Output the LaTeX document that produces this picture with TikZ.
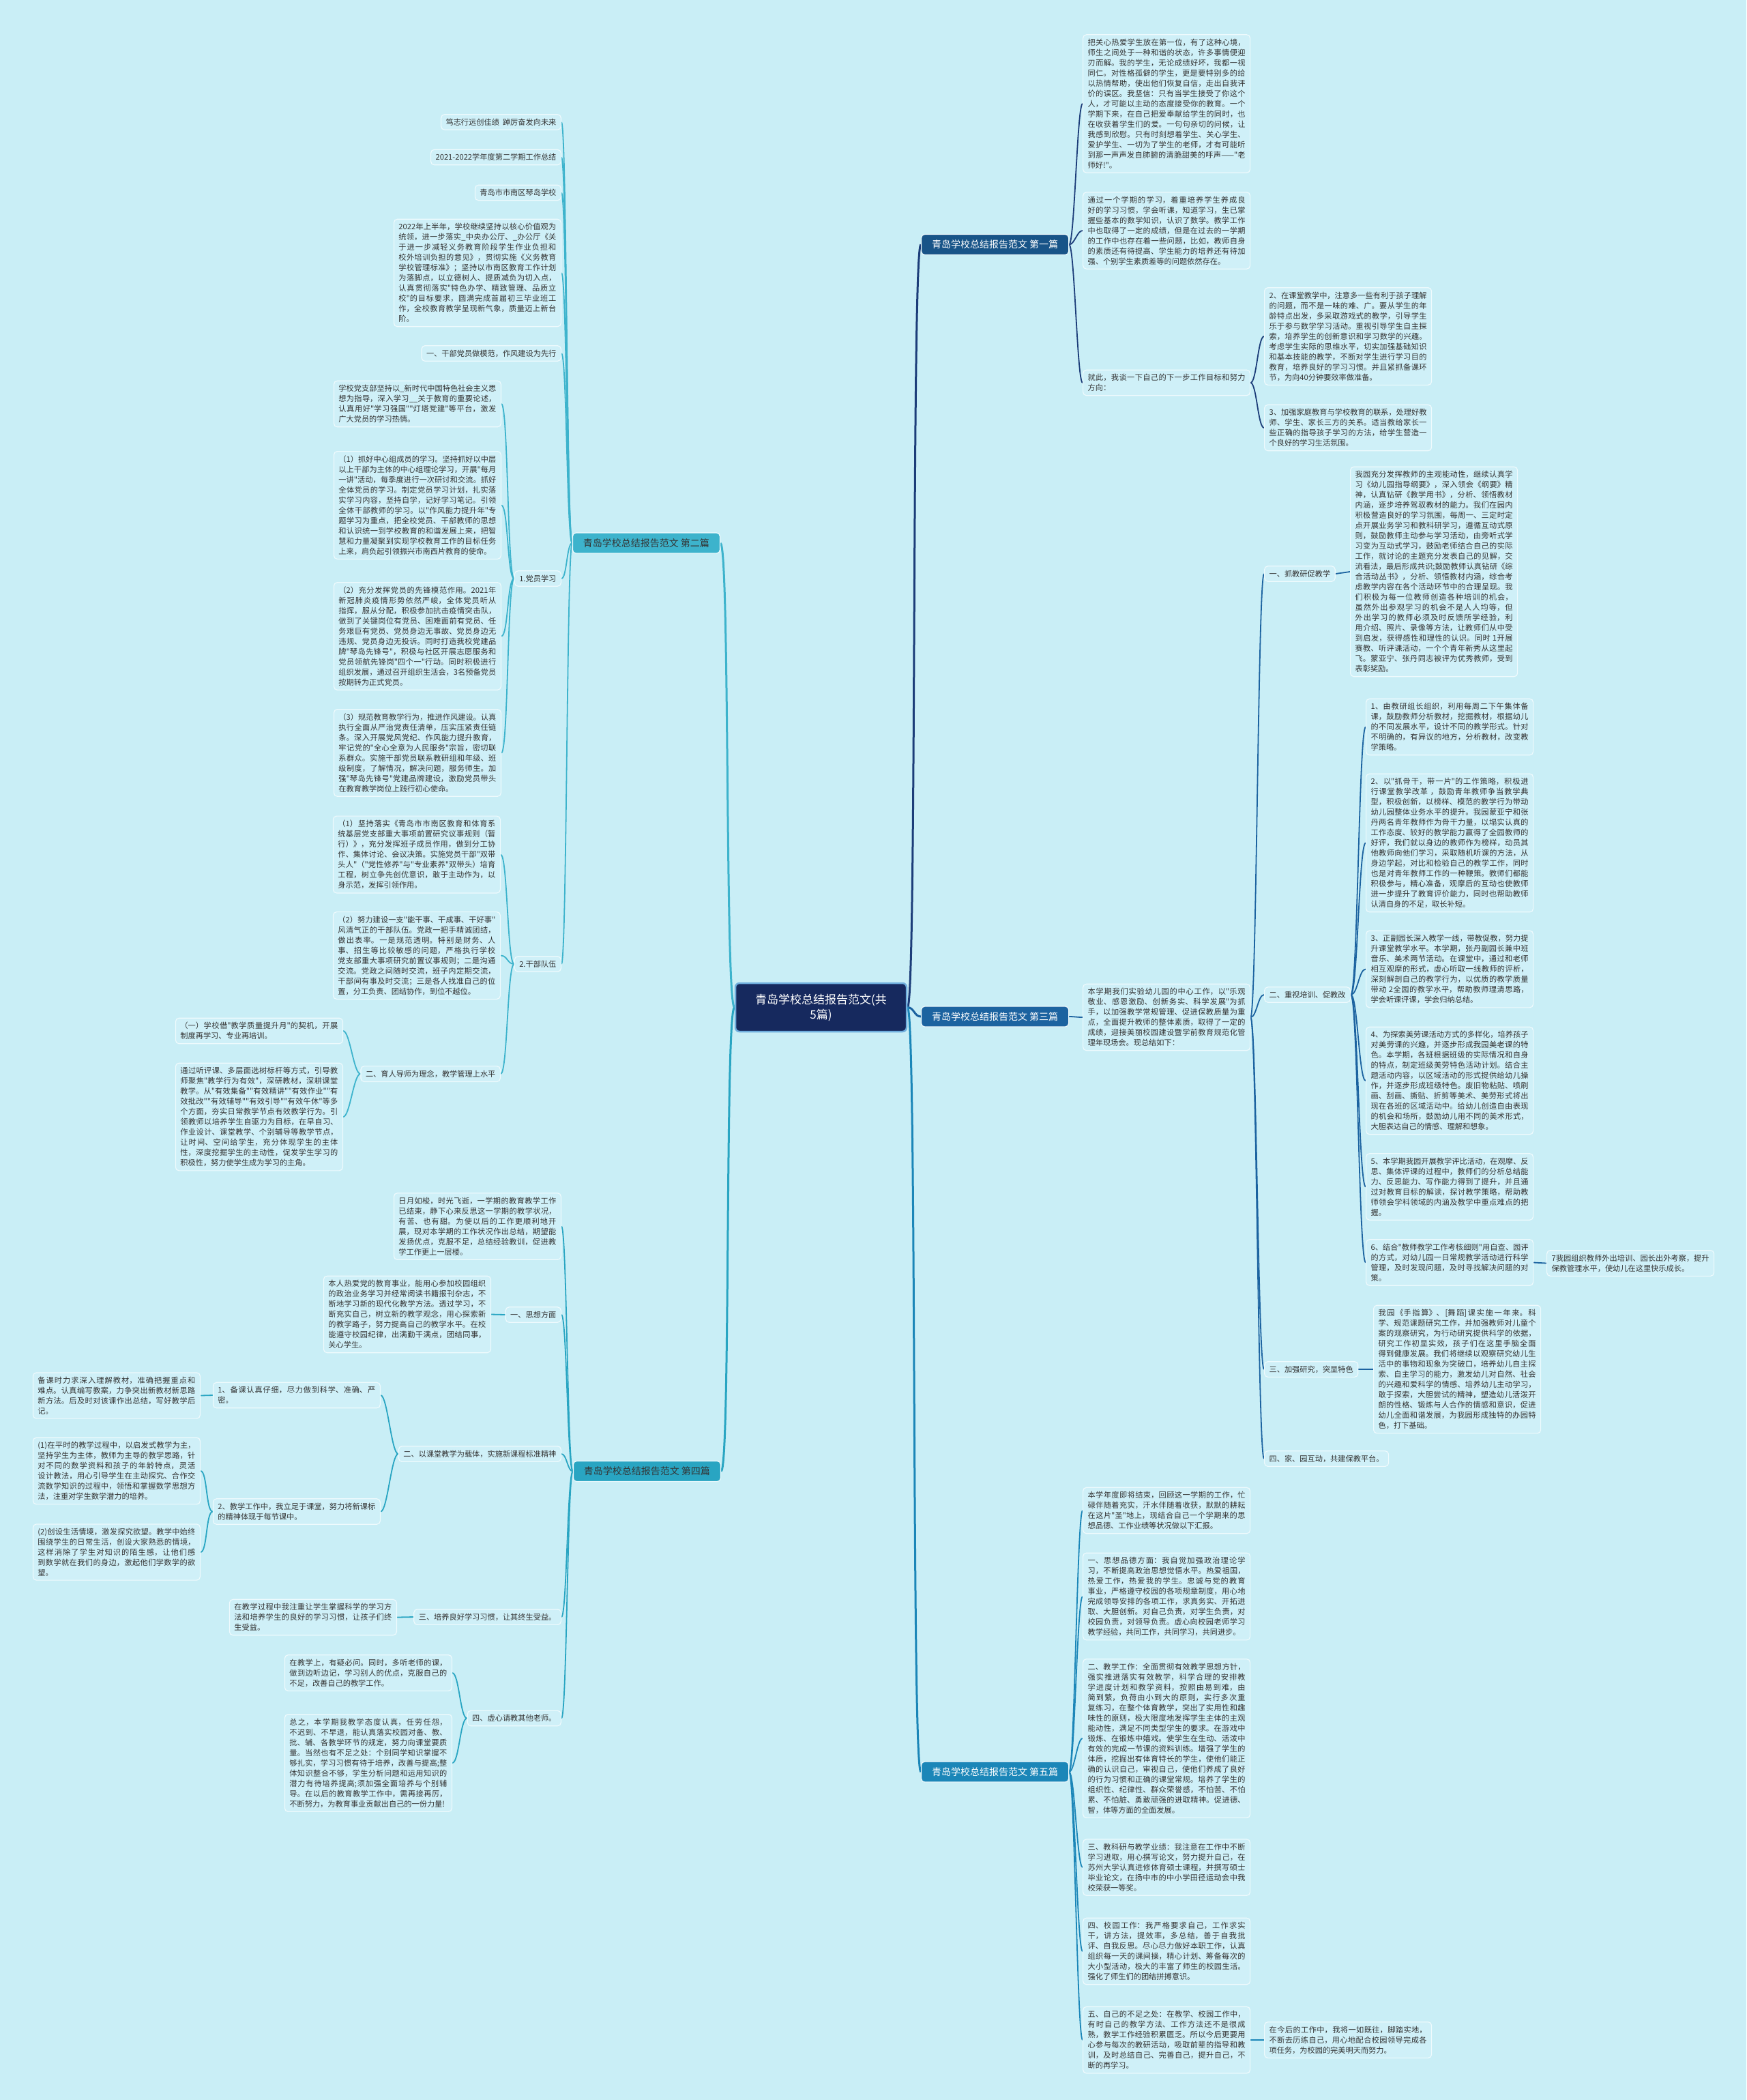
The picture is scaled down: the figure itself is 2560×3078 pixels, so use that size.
\documentclass[tikz,border=0pt]{standalone}
\usepackage{fontspec}
\setmainfont{Noto Sans CJK SC}[Ligatures=TeXOff]
\XeTeXlinebreaklocale "zh"
\XeTeXlinebreakskip=0pt plus 1pt
\usetikzlibrary{positioning}
\pgfdeclarelayer{background}
\pgfsetlayers{background,main}
\definecolor{bgcyan}{HTML}{C9EEF6}
\definecolor{leaffill}{HTML}{CFF0F8}
\definecolor{leafline}{HTML}{EEFAFD}
\definecolor{inktext}{HTML}{333333}
\definecolor{rootnavy}{HTML}{16295E}
\definecolor{rootrim}{HTML}{6FAEDD}
\definecolor{navyline}{HTML}{1C3D79}
\definecolor{blueline}{HTML}{1C63A0}
\definecolor{skyline}{HTML}{1B86B8}
\definecolor{tealline}{HTML}{3DB3CC}
\definecolor{aqualine}{HTML}{29A5C2}
\tikzset{
  leaf/.style={draw=leafline, line width=1.2pt, fill=leaffill, rounded corners=5pt,
    text=inktext, font=\fontsize{11.2}{15}\selectfont, inner xsep=7pt, inner ysep=6pt},
  para/.style={leaf, text width=231pt, align=justify},
  topic/.style={draw=leafline, line width=1.2pt, rounded corners=5pt,
    font=\fontsize{14}{17}\selectfont, minimum width=216pt, minimum height=30pt},
  root/.style={draw=rootrim, line width=2.5pt, fill=rootnavy, rounded corners=6pt,
    text=white, font=\fontsize{17}{22}\selectfont, align=center,
    minimum width=251pt, minimum height=71pt},
  trunk/.style={line width=3pt},
  twig/.style={line width=1.8pt}
}
\begin{document}
\begin{tikzpicture}[x=1pt,y=-1pt]
\begin{pgfonlayer}{background}
  \fill[bgcyan] (0,0) rectangle (2560,3078);
\end{pgfonlayer}
\useasboundingbox (0,0) rectangle (2560,3078);

% centre
\node[root] (root) at (1203.5,1476.5) {青岛学校总结报告范文(共\\5篇)};

% ---- 第一篇 ----
\node[topic, fill=blueline!85!black, text=white, anchor=west] (art1) at (1350,358.5) {青岛学校总结报告范文 第一篇};
\node[para, anchor=west] (t1a) at (1587,152) {把关心热爱学生放在第一位，有了这种心境，师生之间处于一种和谐的状态，许多事情便迎刃而解。我的学生，无论成绩好坏，我都一视同仁。对性格孤僻的学生，更是要特别多的给以热情帮助，使出他们恢复自信，走出自我评价的误区。我坚信：只有当学生接受了你这个人，才可能以主动的态度接受你的教育。一个学期下来，在自己把爱奉献给学生的同时，也在收获着学生们的爱。一句句亲切的问候，让我感到欣慰。只有时刻想着学生、关心学生、爱护学生、一切为了学生的老师，才有可能听到那一声声发自肺腑的清脆甜美的呼声——"老师好!"。};
\node[para, anchor=west] (t1b) at (1587,338) {通过一个学期的学习，着重培养学生养成良好的学习习惯，学会听课，知道学习，生已掌握些基本的数学知识，认识了数学。教学工作中也取得了一定的成绩，但是在过去的一学期的工作中也存在着一些问题，比如，教师自身的素质还有待提高、学生能力的培养还有待加强、个别学生素质差等的问题依然存在。};
\node[para, anchor=west] (t1c) at (1587,561) {就此，我谈一下自己的下一步工作目标和努力方向：};
\node[para, anchor=west] (t1c1) at (1853,493) {2、在课堂教学中，注意多一些有利于孩子理解的问题，而不是一味的难、广。要从学生的年龄特点出发，多采取游戏式的教学，引导学生乐于参与数学学习活动。重视引导学生自主探索，培养学生的创新意识和学习数学的兴趣。考虑学生实际的思维水平，切实加强基础知识和基本技能的教学，不断对学生进行学习目的教育，培养良好的学习习惯。并且紧抓备课环节，为向40分钟要效率做准备。};
\node[para, anchor=west] (t1c2) at (1853,627) {3、加强家庭教育与学校教育的联系，处理好教师、学生、家长三方的关系。适当教给家长一些正确的指导孩子学习的方法，给学生营造一个良好的学习生活氛围。};

% ---- 第三篇 ----
\node[topic, fill=blueline, text=white, anchor=west] (art3) at (1350,1490) {青岛学校总结报告范文 第三篇};
\node[para, anchor=west] (t3) at (1587,1491) {本学期我们实验幼儿园的中心工作，以"乐观敬业、感恩激励、创新务实、科学发展"为抓手，以加强教学常规管理、促进保教质量为重点，全面提升教师的整体素质，取得了一定的成绩，迎接美丽校园建设暨学前教育规范化管理年现场会。现总结如下：};
\node[leaf, anchor=west] (t3a) at (1853,841) {一、抓教研促教学};
\node[para, anchor=west] (t3a1) at (1979,838) {我园充分发挥教师的主观能动性，继续认真学习《幼儿园指导纲要》，深入领会《纲要》精神，认真钻研《教学用书》，分析、领悟教材内涵，逐步培养驾驭教材的能力。我们在园内积极营造良好的学习氛围，每周一、三定时定点开展业务学习和教科研学习，遵循互动式原则，鼓励教师主动参与学习活动，由旁听式学习变为互动式学习，鼓励老师结合自己的实际工作，就讨论的主题充分发表自己的见解，交流看法，最后形成共识;鼓励教师认真钻研《综合活动丛书》，分析、领悟教材内涵，综合考虑教学内容在各个活动环节中的合理呈现。我们积极为每一位教师创造各种培训的机会，虽然外出参观学习的机会不是人人均等，但外出学习的教师必须及时反馈所学经验，利用介绍、照片、录像等方法，让教师们从中受到启发，获得感性和理性的认识。同时 1开展赛教、听评课活动，一个个青年新秀从这里起飞。蒙亚宁、张丹同志被评为优秀教师，受到表彰奖励。};
\node[leaf, anchor=west] (t3b) at (1853,1458) {二、重视培训、促教改};
\node[para, anchor=west] (t3b1) at (2002,1065.5) {1、由教研组长组织，利用每周二下午集体备课，鼓励教师分析教材，挖掘教材，根据幼儿的不同发展水平，设计不同的教学形式。针对不明确的，有异议的地方，分析教材，改变教学策略。};
\node[para, anchor=west] (t3b2) at (2002,1235.5) {2、以"抓骨干，带一片"的工作策略，积极进行课堂教学改革 ，鼓励青年教师争当教学典型，积极创新，以榜样、模范的教学行为带动幼儿园整体业务水平的提升。我园蒙亚宁和张丹两名青年教师作为骨干力量，以塌实认真的工作态度、较好的教学能力赢得了全园教师的好评，我们就以身边的教师作为榜样，动员其他教师向他们学习，采取随机听课的方法，从身边学起，对比和检验自己的教学工作，同时也是对青年教师工作的一种鞭策。教师们都能积极参与，精心准备，观摩后的互动也使教师进一步提升了教育评价能力，同时也帮助教师认清自身的不足，取长补短。};
\node[para, anchor=west] (t3b3) at (2002,1420.5) {3、正副园长深入教学一线，带教促教，努力提升课堂教学水平。本学期，张丹副园长兼中班音乐、美术两节活动。在课堂中，通过和老师相互观摩的形式，虚心听取一线教师的评析，深刻解剖自己的教学行为，以优质的教学质量带动 2全园的教学水平，帮助教师理清思路，学会听课评课，学会归纳总结。};
\node[para, anchor=west] (t3b4) at (2002,1584) {4、为探索美劳课活动方式的多样化，培养孩子对美劳课的兴趣，并逐步形成我园美老课的特色。本学期，各班根据班级的实际情况和自身的特点，制定班级美劳特色活动计划。结合主题活动内容，以区域活动的形式提供给幼儿操作，并逐步形成班级特色。废旧物粘贴、喷刷画、刮画、撕贴、折剪等美术、美劳形式将出现在各班的区域活动中。给幼儿创造自由表现的机会和场所，鼓励幼儿用不同的美术形式，大胆表达自己的情感、理解和想象。};
\node[para, anchor=west] (t3b5) at (2002,1739.5) {5、本学期我园开展教学评比活动，在观摩、反思、集体评课的过程中，教师们的分析总结能力、反思能力、写作能力得到了提升，并且通过对教育目标的解读，探讨教学策略，帮助教师领会学科领域的内涵及教学中重点难点的把握。};
\node[para, anchor=west] (t3b6) at (2002,1850.5) {6、结合"教师教学工作考核细则"用自查、园评的方式，对幼儿园一日常规教学活动进行科学管理，及时发现问题，及时寻找解决问题的对策。};
\node[para, anchor=west] (t3b7) at (2267,1851.5) {7我园组织教师外出培训、园长出外考察，提升保教管理水平，使幼儿在这里快乐成长。};
\node[leaf, anchor=west] (t3c) at (1853,2007) {三、加强研究，突显特色};
\node[para, anchor=west] (t3c1) at (2013,2007) {我园《手指算》、[舞蹈]课实施一年来。科学、规范课题研究工作，并加强教师对儿童个案的观察研究，为行动研究提供科学的依据，研究工作初显实效，孩子们在这里手脑全面得到健康发展。我们将继续以观察研究幼儿生活中的事物和现象为突破口，培养幼儿自主探索、自主学习的能力，激发幼儿对自然、社会的兴趣和爱科学的情感、培养幼儿主动学习，敢于探索，大胆尝试的精神，塑造幼儿活泼开朗的性格、锻炼与人合作的情感和意识，促进幼儿全面和谐发展，为我园形成独特的办园特色，打下基础。};
\node[leaf, anchor=west] (t3d) at (1853,2138) {四、家、园互动，共建保教平台。};

% ---- 第五篇 ----
\node[topic, fill=skyline, text=white, anchor=west] (art5) at (1350,2597) {青岛学校总结报告范文 第五篇};
\node[para, anchor=west] (t5a) at (1587,2214) {本学年度即将结束，回顾这一学期的工作，忙碌伴随着充实，汗水伴随着收获，默默的耕耘在这片"圣"地上，现结合自己一个学期来的思想品德、工作业绩等状况做以下汇报。};
\node[para, anchor=west] (t5b) at (1587,2340) {一、思想品德方面：我自觉加强政治理论学习，不断提高政治思想觉悟水平。热爱祖国，热爱工作，热爱我的学生。忠诚与党的教育事业，严格遵守校园的各项规章制度，用心地完成领导安排的各项工作，求真务实、开拓进取、大胆创新。对自己负责，对学生负责，对校园负责，对领导负责。虚心向校园老师学习教学经验，共同工作，共同学习，共同进步。};
\node[para, anchor=west] (t5c) at (1587,2548) {二、教学工作：全面贯彻有效教学思想方针，强实推进落实有效教学，科学合理的安排教学进度计划和教学资料，按照由易到难，由简到繁，负荷由小到大的原则，实行多次重复练习，在整个体育教学，突出了实用性和趣味性的原则，极大限度地发挥学生主体的主观能动性，满足不同类型学生的要求。在游戏中锻炼、在锻炼中嬉戏。使学生在生动、活泼中有效的完成一节课的资料训练。增强了学生的体质，挖掘出有体育特长的学生，使他们能正确的认识自己，审视自己，使他们养成了良好的行为习惯和正确的课堂常规。培养了学生的组织性、纪律性、群众荣誉感，不怕苦、不怕累、不怕脏、勇敢顽强的进取精神。促进德、智，体等方面的全面发展。};
\node[para, anchor=west] (t5d) at (1587,2737) {三、教科研与教学业绩：我注意在工作中不断学习进取，用心撰写论文，努力提升自己，在苏州大学认真进修体育硕士课程，并撰写硕士毕业论文，在扬中市的中小学田径运动会中我校荣获一等奖。};
\node[para, anchor=west] (t5e) at (1587,2860) {四、校园工作：我严格要求自己，工作求实干，讲方法，提效率，多总结，善于自我批评、自我反思。尽心尽力做好本职工作，认真组织每一天的课间操，精心计划、筹备每次的大小型活动，极大的丰富了师生的校园生活。强化了师生们的团结拼搏意识。};
\node[para, anchor=west] (t5f) at (1587,2990) {五、自己的不足之处：在教学、校园工作中，有时自己的教学方法、工作方法还不是很成熟，教学工作经验积累匮乏。所以今后更要用心参与每次的教研活动，吸取前辈的指导和教训，及时总结自己、完善自己，提升自己，不断的再学习。};
\node[para, anchor=west] (t5g) at (1853,2990) {在今后的工作中，我将一如既往，脚踏实地，不断去历练自己，用心地配合校园领导完成各项任务，为校园的完美明天而努力。};

% ---- 第二篇 ----
\node[topic, fill=tealline, text=inktext, anchor=east] (art2) at (1056,796) {青岛学校总结报告范文 第二篇};
\node[leaf, anchor=east] (l2a) at (823,179) {笃志行远创佳绩\ \ 踔厉奋发向未来};
\node[leaf, anchor=east] (l2b) at (823,230.5) {2021-2022学年度第二学期工作总结};
\node[leaf, anchor=east] (l2c) at (823,282.5) {青岛市市南区琴岛学校};
\node[para, anchor=east] (l2d) at (823,400) {2022年上半年，学校继续坚持以核心价值观为统领，进一步落实\_中央办公厅、\_办公厅《关于进一步减轻义务教育阶段学生作业负担和校外培训负担的意见》，贯彻实施《义务教育学校管理标准》；坚持以市南区教育工作计划为落脚点，以立德树人、提质减负为切入点，认真贯彻落实"特色办学、精致管理、品质立校"的目标要求，圆满完成首届初三毕业班工作，全校教育教学呈现新气象，质量迈上新台阶。};
\node[leaf, anchor=east] (l2e) at (823,518) {一、干部党员做模范，作风建设为先行};
\node[leaf, anchor=east] (l2f) at (823,848) {1.党员学习};
\node[para, anchor=east] (l2f1) at (735,592) {学校党支部坚持以\_新时代中国特色社会主义思想为指导，深入学习\_\_关于教育的重要论述，认真用好"学习强国""灯塔党建"等平台，激发广大党员的学习热情。};
\node[para, anchor=east] (l2f2) at (735,740.5) {（1）抓好中心组成员的学习。坚持抓好以中层以上干部为主体的中心组理论学习，开展"每月一讲"活动，每季度进行一次研讨和交流。抓好全体党员的学习。制定党员学习计划，扎实落实学习内容，坚持自学，记好学习笔记。引领全体干部教师的学习。以"作风能力提升年"专题学习为重点，把全校党员、干部教师的思想和认识统一到学校教育的和谐发展上来，把智慧和力量凝聚到实现学校教育工作的目标任务上来，肩负起引领振兴市南西片教育的使命。};
\node[para, anchor=east] (l2f3) at (735,932.5) {（2）充分发挥党员的先锋模范作用。2021年新冠肺炎疫情形势依然严峻，全体党员听从指挥，服从分配，积极参加抗击疫情突击队，做到了关键岗位有党员、困难面前有党员、任务艰巨有党员、党员身边无事故、党员身边无违规、党员身边无投诉。同时打造我校党建品牌"琴岛先锋号"，积极与社区开展志愿服务和党员领航先锋岗"四个一"行动。同时积极进行组织发展，通过召开组织生活会，3名预备党员按期转为正式党员。};
\node[para, anchor=east] (l2f4) at (735,1103.5) {（3）规范教育教学行为，推进作风建设。认真执行全面从严治党责任清单，压实压紧责任链条。深入开展党风党纪、作风能力提升教育，牢记党的"全心全意为人民服务"宗旨，密切联系群众。实施干部党员联系教研组和年级、班级制度，了解情况，解决问题，服务师生。加强"琴岛先锋号"党建品牌建设，激励党员带头在教育教学岗位上践行初心使命。};
\node[leaf, anchor=east] (l2g) at (823,1413) {2.干部队伍};
\node[para, anchor=east] (l2g1) at (734,1252.5) {（1）坚持落实《青岛市市南区教育和体育系统基层党支部重大事项前置研究议事规则（暂行）》，充分发挥班子成员作用，做到分工协作、集体讨论、会议决策。实施党员干部"双带头人"（"党性修养"与"专业素养"双带头）培育工程，树立争先创优意识，敢于主动作为，以身示范，发挥引领作用。};
\node[para, anchor=east] (l2g2) at (734,1400.5) {（2）努力建设一支"能干事、干成事、干好事" 风清气正的干部队伍。党政一把手精诚团结，做出表率。一是规范透明。特别是财务、人事、招生等比较敏感的问题，严格执行学校党支部重大事项研究前置议事规则；二是沟通交流。党政之间随时交流，班子内定期交流，干部间有事及时交流；三是各人找准自己的位置，分工负责、团结协作，到位不越位。};
\node[leaf, anchor=east] (l2g3) at (734,1574) {二、育人导师为理念，教学管理上水平};
\node[para, anchor=east] (l2g3a) at (503,1511) {（一）学校借"教学质量提升月"的契机，开展制度再学习、专业再培训。};
\node[para, anchor=east] (l2g3b) at (503,1637) {通过听评课、多层面选树标杆等方式，引导教师聚焦"教学行为有效"，深研教材，深耕课堂教学。从"有效集备""有效精讲""有效作业""有效批改""有效辅导""有效引导""有效午休"等多个方面，夯实日常教学节点有效教学行为。引领教师以培养学生自驱力为目标，在早自习、作业设计、课堂教学、个别辅导等教学节点，让时间、空间给学生，充分体现学生的主体性，深度挖掘学生的主动性，促发学生学习的积极性，努力使学生成为学习的主角。};

% ---- 第四篇 ----
\node[topic, fill=aqualine, text=inktext, anchor=east] (art4) at (1057,2156.5) {青岛学校总结报告范文 第四篇};
\node[para, anchor=east] (l4a) at (823,1797.5) {日月如梭，时光飞逝，一学期的教育教学工作已结束，静下心来反思这一学期的教学状况，有苦、也有甜。为使以后的工作更顺利地开展，现对本学期的工作状况作出总结，期望能发扬优点，克服不足，总结经验教训，促进教学工作更上一层楼。};
\node[leaf, anchor=east] (l4b) at (823,1927) {一、思想方面};
\node[para, anchor=east] (l4b1) at (720,1926.5) {本人热爱党的教育事业，能用心参加校园组织的政治业务学习并经常阅读书籍报刊杂志，不断地学习新的现代化教学方法。透过学习，不断充实自己，树立新的教学观念，用心探索新的教学路子，努力提高自己的教学水平。在校能遵守校园纪律，出满勤干满点，团结同事，关心学生。};
\node[leaf, anchor=east] (l4c) at (823,2131) {二、以课堂教学为载体，实施新课程标准精神};
\node[para, anchor=east] (l4c1) at (558,2045) {1、备课认真仔细，尽力做到科学、准确、严密。};
\node[para, anchor=east] (l4c1a) at (294,2045.5) {备课时力求深入理解教材，准确把握重点和难点。认真编写教案，力争突出新教材新思路新方法。后及时对该课作出总结，写好教学后记。};
\node[para, anchor=east] (l4c2) at (558,2215.5) {2、教学工作中，我立足于课堂，努力将新课标的精神体现于每节课中。};
\node[para, anchor=east] (l4c2a) at (294,2156) {(1)在平时的教学过程中，以启发式教学为主，坚持学生为主体，教师为主导的教学思路，针对不同的数学资料和孩子的年龄特点，灵活设计教法，用心引导学生在主动探究、合作交流数学知识的过程中，领悟和掌握数学思想方法，注重对学生数学潜力的培养。};
\node[para, anchor=east] (l4c2b) at (294,2275) {(2)创设生活情境，激发探究欲望。教学中始终围绕学生的日常生活，创设大家熟悉的情境，这样消除了学生对知识的陌生感，让他们感到数学就在我们的身边，激起他们学数学的欲望。};
\node[leaf, anchor=east] (l4d) at (823,2370) {三、培养良好学习习惯，让其终生受益。};
\node[para, anchor=east] (l4d1) at (582,2370.5) {在教学过程中我注重让学生掌握科学的学习方法和培养学生的良好的学习习惯，让孩子们终生受益。};
\node[leaf, anchor=east] (l4e) at (823,2518.5) {四、虚心请教其他老师。};
\node[para, anchor=east] (l4e1) at (663,2452) {在教学上，有疑必问。同时，多听老师的课，做到边听边记，学习别人的优点，克服自己的不足，改善自己的教学工作。};
\node[para, anchor=east] (l4e2) at (663,2584) {总之，本学期我教学态度认真，任劳任怨，不迟到、不早退，能认真落实校园对备、教、批、辅、各教学环节的规定，努力向课堂要质量。当然也有不足之处：个别同学知识掌握不够扎实，学习习惯有待于培养，改善与提高;整体知识整合不够，学生分析问题和运用知识的潜力有待培养提高;须加强全面培养与个别辅导。在以后的教育教学工作中，需再接再厉，不断努力，为教育事业贡献出自己的一份力量!};

% connectors
\begin{pgfonlayer}{background}
  \draw[trunk, navyline] (root.east) .. controls +(14,0) and +(-14,0) .. (art1.west);
  \draw[trunk, blueline] (root.east) .. controls +(10,0) and +(-10,0) .. (art3.west);
  \draw[trunk, skyline] (root.east) .. controls +(14,0) and +(-14,0) .. (art5.west);
  \draw[trunk, tealline] (root.west) .. controls +(-14,0) and +(14,0) .. (art2.east);
  \draw[trunk, aqualine] (root.west) .. controls +(-14,0) and +(14,0) .. (art4.east);
  % right side
  \foreach \c in {t1a,t1b,t1c}
    \draw[twig, navyline] (art1.east) .. controls +(8,0) and +(-8,0) .. (\c.west);
  \foreach \c in {t1c1,t1c2}
    \draw[twig, navyline] (t1c.east) .. controls +(9,0) and +(-9,0) .. (\c.west);
  \draw[twig, blueline] (art3.east) .. controls +(8,0) and +(-8,0) .. (t3.west);
  \foreach \c in {t3a,t3b,t3c,t3d}
    \draw[twig, blueline] (t3.east) .. controls +(9,0) and +(-9,0) .. (\c.west);
  \draw[twig, blueline] (t3a.east) -- (t3a1.west);
  \foreach \c in {t3b1,t3b2,t3b3,t3b4,t3b5,t3b6}
    \draw[twig, blueline] (t3b.east) .. controls +(10,0) and +(-10,0) .. (\c.west);
  \draw[twig, blueline] (t3b6.east) -- (t3b7.west);
  \draw[twig, blueline] (t3c.east) -- (t3c1.west);
  \foreach \c in {t5a,t5b,t5c,t5d,t5e,t5f}
    \draw[twig, skyline] (art5.east) .. controls +(8,0) and +(-8,0) .. (\c.west);
  \draw[twig, skyline] (t5f.east) -- (t5g.west);
  % left side
  \foreach \c in {l2a,l2b,l2c,l2d,l2e,l2f,l2g}
    \draw[twig, tealline] (art2.west) .. controls +(-8,0) and +(8,0) .. (\c.east);
  \foreach \c in {l2f1,l2f2,l2f3,l2f4}
    \draw[twig, tealline] (l2f.west) .. controls +(-10,0) and +(10,0) .. (\c.east);
  \foreach \c in {l2g1,l2g2,l2g3}
    \draw[twig, tealline] (l2g.west) .. controls +(-10,0) and +(10,0) .. (\c.east);
  \foreach \c in {l2g3a,l2g3b}
    \draw[twig, tealline] (l2g3.west) .. controls +(-10,0) and +(10,0) .. (\c.east);
  \foreach \c in {l4a,l4b,l4c,l4d,l4e}
    \draw[twig, aqualine] (art4.west) .. controls +(-8,0) and +(8,0) .. (\c.east);
  \draw[twig, aqualine] (l4b.west) -- (l4b1.east);
  \foreach \c in {l4c1,l4c2}
    \draw[twig, aqualine] (l4c.west) .. controls +(-10,0) and +(10,0) .. (\c.east);
  \draw[twig, aqualine] (l4c1.west) -- (l4c1a.east);
  \foreach \c in {l4c2a,l4c2b}
    \draw[twig, aqualine] (l4c2.west) .. controls +(-10,0) and +(10,0) .. (\c.east);
  \draw[twig, aqualine] (l4d.west) -- (l4d1.east);
  \foreach \c in {l4e1,l4e2}
    \draw[twig, aqualine] (l4e.west) .. controls +(-10,0) and +(10,0) .. (\c.east);
\end{pgfonlayer}
\end{tikzpicture}
\end{document}
